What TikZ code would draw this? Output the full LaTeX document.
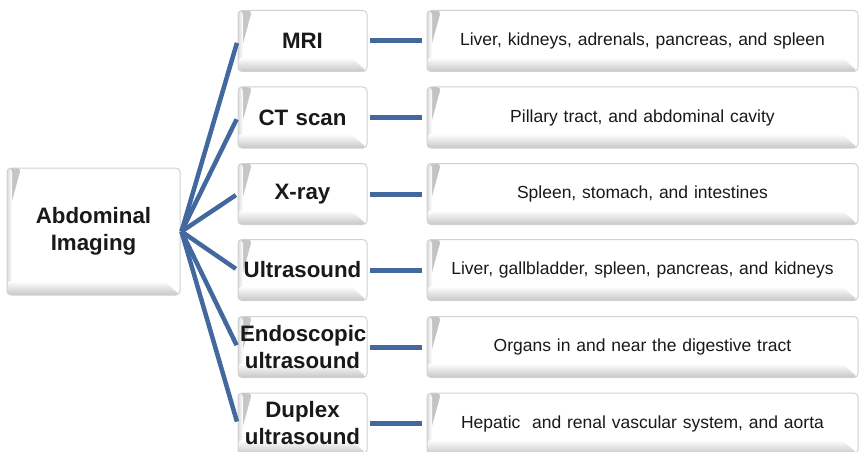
\documentclass[tikz,border=0pt]{standalone}
\usepackage{fontspec}
\setmainfont{Liberation Sans}
\usetikzlibrary{calc}
\definecolor{linkblue}{RGB}{66,104,158}
\definecolor{txt}{RGB}{25,25,25}
\tikzset{
  bevel/.style={rectangle, rounded corners=4pt, draw=black!18, line width=1pt, fill=white,
    inner sep=2pt, align=center, text=txt,
    path picture={
      \shade[left color=black!24, right color=white]
        (path picture bounding box.north west) -- ([xshift=14pt]path picture bounding box.north west)
        -- ([xshift=2pt,yshift=-44pt]path picture bounding box.north west)
        -- ([yshift=-44pt]path picture bounding box.north west) -- cycle;
      \shade[left color=black!14, right color=white]
        (path picture bounding box.north west) -- ([xshift=5pt]path picture bounding box.north west)
        -- ([xshift=5pt]path picture bounding box.south west) -- (path picture bounding box.south west) -- cycle;
      \shade[top color=white, bottom color=black!22]
        ([yshift=14pt]path picture bounding box.south west)
        -- ([xshift=-16pt,yshift=14pt]path picture bounding box.south east)
        -- (path picture bounding box.south east)
        -- (path picture bounding box.south west) -- cycle;
    }},
  boldtext/.style={font=\fontsize{22.3pt}{27pt}\selectfont\bfseries},
  midbox/.style={bevel, boldtext, minimum width=129pt, minimum height=61pt, text width=125pt},
  rightbox/.style={bevel, minimum width=431pt, minimum height=61pt, text width=420pt,
    font=\fontsize{17.5pt}{21pt}\selectfont},
  fan/.style={draw=linkblue, line width=4.5pt, shorten >=2pt},
  conn/.style={draw=linkblue, line width=5pt, shorten <=2pt, shorten >=5pt},
}
\begin{document}
\begin{tikzpicture}[x=1pt,y=-1pt]
\useasboundingbox (0,0) rectangle (863,452);
\node[bevel, boldtext, minimum width=173pt, minimum height=127pt, text width=165pt] (a) at (93.5,231.5) {Abdominal\\Imaging};

\node[midbox] (m1) at (302.5,41) {MRI};
\node[midbox] (m2) at (302.5,117.5) {CT scan};
\node[midbox] (m3) at (302.5,194) {X-ray};
\node[midbox] (m4) at (302.5,270) {Ultrasound};
\node[midbox] (m5) at (302.5,347) {Endoscopic\\ultrasound};
\node[midbox] (m6) at (302.5,423.5) {Duplex\\ultrasound};

\node[rightbox] (r1) at (642.5,41) {Liver, kidneys, adrenals, pancreas, and spleen};
\node[rightbox] (r2) at (642.5,117.5) {Pillary tract, and abdominal cavity};
\node[rightbox] (r3) at (642.5,194) {Spleen, stomach, and intestines};
\node[rightbox] (r4) at (642.5,270) {Liver, gallbladder, spleen, pancreas, and kidneys};
\node[rightbox] (r5) at (642.5,347) {Organs in and near the digestive tract};
\node[rightbox] (r6) at (642.5,423.5) {Hepatic\ \ and renal vascular system, and aorta};

\foreach \i in {1,...,6}{
  \draw[fan] ([xshift=1pt]a.east) -- (m\i.west);
  \draw[conn] (m\i) -- (r\i);
}
\end{tikzpicture}
\end{document}
